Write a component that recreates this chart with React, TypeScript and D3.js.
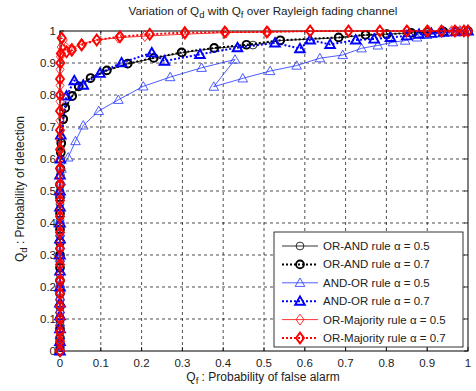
import { useEffect, useRef } from "react";
import * as d3 from "d3";

type Pt = [number, number];

// [Qf, Qd] pairs
const orAnd05: Pt[] = [
  [0, 0], [0, 0.01], [0, 0.03], [0, 0.06], [0, 0.09], [0, 0.12], [0, 0.16], [0, 0.2],
  [0, 0.24], [0, 0.28], [0, 0.32], [0, 0.36], [0, 0.41], [0, 0.46], [0, 0.5],
  [0.001, 0.55], [0.002, 0.6], [0.003, 0.644], [0.008, 0.722], [0.012, 0.758],
  [0.029, 0.795], [0.045, 0.826], [0.074, 0.852], [0.114, 0.876], [0.165, 0.897],
  [0.229, 0.915], [0.3, 0.932], [0.377, 0.946], [0.473, 0.956], [0.539, 0.97],
  [0.682, 0.979], [0.748, 0.987], [0.8, 0.99], [0.86, 0.994], [0.9, 0.996],
  [0.94, 0.998], [0.97, 0.999], [1, 1],
];
const orAnd07: Pt[] = [
  [0, 0], [0, 0.02], [0, 0.04], [0, 0.07], [0, 0.1], [0, 0.14], [0, 0.18], [0, 0.22],
  [0, 0.26], [0, 0.3], [0, 0.34], [0, 0.38], [0, 0.43], [0, 0.48], [0, 0.52],
  [0.001, 0.57], [0.002, 0.62], [0.003, 0.65], [0.008, 0.725], [0.013, 0.76],
  [0.03, 0.797], [0.046, 0.827], [0.075, 0.853], [0.115, 0.877], [0.166, 0.898],
  [0.23, 0.916], [0.298, 0.933], [0.378, 0.947], [0.457, 0.957], [0.54, 0.971],
  [0.683, 0.98], [0.749, 0.988], [0.801, 0.99], [0.861, 0.994], [0.9, 0.996],
  [0.94, 0.998], [0.97, 0.999], [1, 1],
];
const andOr05: Pt[] = [
  [0, 0], [0, 0.02], [0, 0.05], [0, 0.09], [0, 0.13], [0, 0.17], [0, 0.21], [0, 0.25],
  [0, 0.29], [0, 0.33], [0, 0.37], [0, 0.41], [0, 0.45], [0.001, 0.49], [0.002, 0.53],
  [0.004, 0.57], [0.02, 0.605], [0.038, 0.656], [0.057, 0.705], [0.095, 0.75],
  [0.143, 0.785], [0.204, 0.827], [0.27, 0.856], [0.347, 0.885], [0.429, 0.911],
  [0.377, 0.826], [0.448, 0.852], [0.515, 0.875], [0.58, 0.892], [0.637, 0.915],
  [0.693, 0.925], [0.739, 0.946], [0.779, 0.955], [0.816, 0.965], [0.846, 0.97],
  [0.875, 0.98], [0.9, 0.988], [0.93, 0.993], [0.96, 0.997], [0.98, 0.999], [1, 1],
];
const andOr07: Pt[] = [
  [0, 0], [0, 0.03], [0, 0.07], [0, 0.11], [0, 0.15], [0, 0.2], [0, 0.25], [0, 0.3],
  [0, 0.35], [0, 0.4], [0, 0.45], [0, 0.5], [0, 0.55], [0.001, 0.6], [0.002, 0.675],
  [0.016, 0.797], [0.035, 0.845], [0.057, 0.831], [0.098, 0.868], [0.151, 0.901],
  [0.225, 0.932], [0.256, 0.906], [0.343, 0.927], [0.435, 0.948], [0.527, 0.963],
  [0.588, 0.945], [0.613, 0.972], [0.662, 0.958], [0.725, 0.972], [0.77, 0.975],
  [0.81, 0.98], [0.85, 0.985], [0.88, 0.99], [0.91, 0.993], [0.94, 0.996],
  [0.97, 0.998], [1, 1],
];
const orMaj05: Pt[] = [
  [0, 0], [0, 0.02], [0, 0.05], [0, 0.08], [0, 0.12], [0, 0.16], [0, 0.2], [0, 0.24],
  [0, 0.29], [0, 0.34], [0, 0.39], [0, 0.44], [0, 0.49], [0, 0.54], [0, 0.6], [0, 0.66],
  [0, 0.72], [0, 0.78], [0, 0.83], [0, 0.88], [0.001, 0.92], [0.003, 0.95],
  [0.008, 0.972], [0.029, 0.946], [0.053, 0.96], [0.09, 0.972], [0.143, 0.979],
  [0.208, 0.984], [0.306, 0.99], [0.407, 0.995], [0.51, 0.997], [0.613, 0.999],
  [0.707, 1], [0.784, 1], [0.852, 1], [0.903, 1], [0.935, 1], [0.96, 1], [0.98, 1],
  [0.99, 1], [1, 1],
];
const orMaj07: Pt[] = [
  [0, 0], [0, 0.03], [0, 0.06], [0, 0.1], [0, 0.14], [0, 0.18], [0, 0.22], [0, 0.27],
  [0, 0.32], [0, 0.37], [0, 0.42], [0, 0.47], [0, 0.52], [0, 0.57], [0, 0.63], [0, 0.69],
  [0, 0.75], [0, 0.8], [0, 0.85], [0.001, 0.9], [0.002, 0.93], [0.004, 0.978],
  [0.016, 0.935], [0.029, 0.94], [0.053, 0.956], [0.09, 0.972], [0.147, 0.982],
  [0.22, 0.99], [0.306, 0.995], [0.404, 0.997], [0.507, 0.997], [0.613, 1], [0.707, 1],
  [0.784, 1], [0.85, 1], [0.9, 1], [0.935, 1], [0.968, 1], [0.99, 1], [1, 1],
];

const seriesNames = [
  "OR-AND rule \u03b1 = 0.5",
  "OR-AND rule \u03b1 = 0.7",
  "AND-OR rule \u03b1 = 0.5",
  "AND-OR rule \u03b1 = 0.7",
  "OR-Majority rule \u03b1 = 0.5",
  "OR-Majority rule \u03b1 = 0.7",
];
const seriesData = [orAnd05, orAnd07, andOr05, andOr07, orMaj05, orMaj07];
const seriesColor = ["#000000", "#000000", "#2233ff", "#0000ff", "#ff0000", "#ff0000"];
const seriesMarker = ["circle", "circle", "triangle", "triangle", "diamond", "diamond"];
const seriesBold = [false, true, false, true, false, true];

const ticks = [0, 0.1, 0.2, 0.3, 0.4, 0.5, 0.6, 0.7, 0.8, 0.9, 1];
const tickLabels = ["0", "0.1", "0.2", "0.3", "0.4", "0.5", "0.6", "0.7", "0.8", "0.9", "1"];

const W = 476;
const H = 391;
const FONT = "'Liberation Sans', Arial, sans-serif";

function markerPath(type: string): string {
  if (type === "triangle") return "M0,-4.8L4.8,3.6L-4.8,3.6Z";
  if (type === "diamond") return "M0,-5.4L4,0L0,5.4L-4,0Z";
  return "";
}

export default function App() {
  const svgRef = useRef<SVGSVGElement>(null);

  useEffect(() => {
    if (!svgRef.current) return;
    const svg = d3.select(svgRef.current);
    svg.selectAll("*").remove();

    const x = d3.scaleLinear().domain([0, 1]).range([60, 468]);
    const y = d3.scaleLinear().domain([0, 1]).range([351, 31]);

    svg.append("rect").attr("width", W).attr("height", H).attr("fill", "#fff");

    // grid
    const grid = svg.append("g").attr("stroke", "#000").attr("stroke-width", 0.7)
      .attr("stroke-dasharray", "3,3");
    ticks.slice(1, -1).forEach((t) => {
      grid.append("line").attr("x1", x(t)).attr("x2", x(t)).attr("y1", y(0)).attr("y2", y(1));
      grid.append("line").attr("x1", x(0)).attr("x2", x(1)).attr("y1", y(t)).attr("y2", y(t));
    });

    // inner ticks on all four sides
    const tk = svg.append("g").attr("stroke", "#000").attr("stroke-width", 0.8);
    ticks.forEach((t) => {
      tk.append("line").attr("x1", x(t)).attr("x2", x(t)).attr("y1", y(0)).attr("y2", y(0) - 4);
      tk.append("line").attr("x1", x(t)).attr("x2", x(t)).attr("y1", y(1)).attr("y2", y(1) + 4);
      tk.append("line").attr("x1", x(0)).attr("x2", x(0) + 4).attr("y1", y(t)).attr("y2", y(t));
      tk.append("line").attr("x1", x(1)).attr("x2", x(1) - 4).attr("y1", y(t)).attr("y2", y(t));
    });

    svg.append("rect")
      .attr("x", x(0)).attr("y", y(1))
      .attr("width", x(1) - x(0)).attr("height", y(0) - y(1))
      .attr("fill", "none").attr("stroke", "#000").attr("stroke-width", 1);

    // tick labels
    ticks.forEach((t, i) => {
      svg.append("text").attr("x", x(t)).attr("y", y(0) + 16)
        .attr("text-anchor", "middle").attr("font-family", FONT).attr("font-size", 11.5)
        .attr("fill", "#222").text(tickLabels[i]);
      svg.append("text").attr("x", x(0) - 4).attr("y", y(t) + 4)
        .attr("text-anchor", "end").attr("font-family", FONT).attr("font-size", 11.5)
        .attr("fill", "#222").text(tickLabels[i]);
    });

    const drawMarker = (g: any, type: string, cx: number, cy: number, color: string, bold: boolean) => {
      const sw = bold ? 1.9 : 0.8;
      if (type === "circle") {
        g.append("circle").attr("cx", cx).attr("cy", cy).attr("r", 3.9)
          .attr("fill", "none").attr("stroke", color).attr("stroke-width", sw);
      } else {
        g.append("path").attr("d", markerPath(type))
          .attr("transform", `translate(${cx},${cy})`)
          .attr("fill", "none").attr("stroke", color).attr("stroke-width", sw)
          .attr("stroke-linejoin", "miter");
      }
    };

    const line = d3.line<Pt>().x((d) => x(d[0])).y((d) => y(d[1]));

    seriesData.forEach((data, i) => {
      const g = svg.append("g");
      const color = seriesColor[i];
      const bold = seriesBold[i];
      g.append("path").attr("d", line(data))
        .attr("fill", "none").attr("stroke", color)
        .attr("stroke-width", bold ? 2 : 0.8)
        .attr("stroke-dasharray", bold ? "2,2" : null);
      data.forEach((d) => drawMarker(g, seriesMarker[i], x(d[0]), y(d[1]), color, bold));
    });

    // legend
    const lx = 274, ly = 232, lw = 189, lh = 115;
    const lg = svg.append("g");
    lg.append("rect").attr("x", lx).attr("y", ly).attr("width", lw).attr("height", lh)
      .attr("fill", "#fff").attr("stroke", "#000").attr("stroke-width", 0.8);
    seriesNames.forEach((name, i) => {
      const ry = ly + 14 + i * 18.4;
      const color = seriesColor[i];
      const bold = seriesBold[i];
      lg.append("line").attr("x1", lx + 8).attr("x2", lx + 44).attr("y1", ry).attr("y2", ry)
        .attr("stroke", color).attr("stroke-width", bold ? 2 : 0.8)
        .attr("stroke-dasharray", bold ? "2,2" : null);
      drawMarker(lg, seriesMarker[i], lx + 26, ry, color, bold);
      lg.append("text").attr("x", lx + 49).attr("y", ry + 4)
        .attr("font-family", FONT).attr("font-size", 11.5).attr("fill", "#222").text(name);
    });

    // title
    const title = svg.append("text").attr("x", 263).attr("y", 15)
      .attr("text-anchor", "middle").attr("font-family", FONT).attr("font-size", 11.7)
      .attr("fill", "#222");
    title.append("tspan").text("Variation of Q");
    title.append("tspan").attr("dy", 3).attr("font-size", 9.5).text("d");
    title.append("tspan").attr("dy", -3).text(" with Q");
    title.append("tspan").attr("dy", 3).attr("font-size", 9.5).text("f");
    title.append("tspan").attr("dy", -3).text(" over Rayleigh fading channel");

    // x label
    const xl = svg.append("text").attr("x", 263).attr("y", 381)
      .attr("text-anchor", "middle").attr("font-family", FONT).attr("font-size", 12)
      .attr("fill", "#222");
    xl.append("tspan").text("Q");
    xl.append("tspan").attr("dy", 3).attr("font-size", 9.5).text("f");
    xl.append("tspan").attr("dy", -3).text(" : Probability of false alarm");

    // y label
    const yl = svg.append("text").attr("transform", "translate(24,189) rotate(-90)")
      .attr("text-anchor", "middle").attr("font-family", FONT).attr("font-size", 12)
      .attr("fill", "#222");
    yl.append("tspan").text("Q");
    yl.append("tspan").attr("dy", 3).attr("font-size", 9.5).text("d");
    yl.append("tspan").attr("dy", -3).text(" : Probability of detection");
  }, []);

  return (
    <svg
      ref={svgRef}
      width={W}
      height={H}
      style={{ position: "absolute", left: 0, top: 0 }}
      role="img"
      aria-label="Variation of Qd with Qf over Rayleigh fading channel"
    />
  );
}
